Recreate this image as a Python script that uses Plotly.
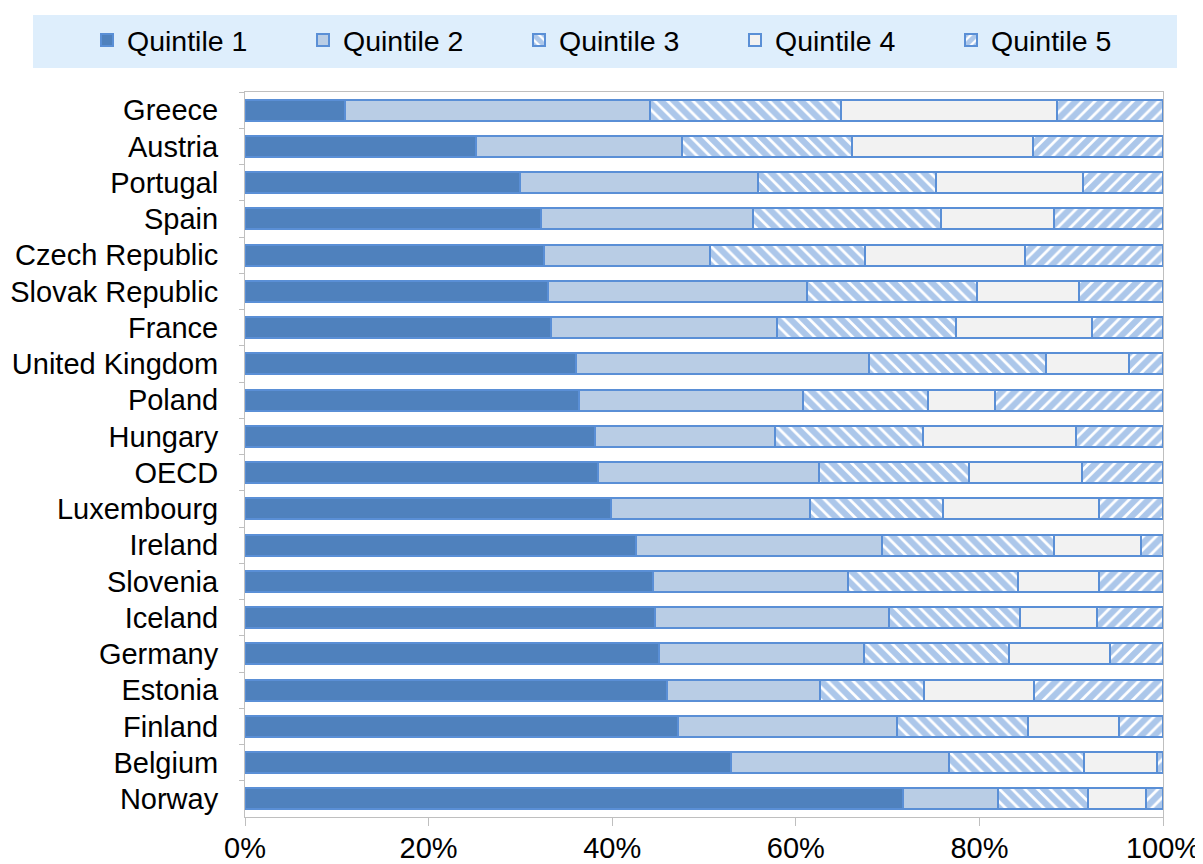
import plotly.graph_objects as go

countries = ["Greece", "Austria", "Portugal", "Spain", "Czech Republic", "Slovak Republic",
             "France", "United Kingdom", "Poland", "Hungary", "OECD", "Luxembourg",
             "Ireland", "Slovenia", "Iceland", "Germany", "Estonia", "Finland",
             "Belgium", "Norway"]

q1 = [10.9, 25.2, 30.0, 32.2, 32.6, 33.0, 33.3, 36.1, 36.4, 38.1, 38.5, 39.9,
      42.6, 44.4, 44.7, 45.1, 46.0, 47.2, 52.9, 71.7]
q2 = [33.2, 22.4, 25.9, 23.1, 18.0, 28.2, 24.7, 31.9, 24.4, 19.6, 24.0, 21.7,
      26.8, 21.3, 25.5, 22.3, 16.6, 23.8, 23.8, 10.3]
q3 = [20.8, 18.5, 19.4, 20.5, 16.9, 18.5, 19.4, 19.3, 13.6, 16.2, 16.4, 14.4,
      18.7, 18.5, 14.2, 15.8, 11.4, 14.3, 14.7, 9.8]
q4 = [23.5, 19.7, 16.0, 12.3, 17.5, 11.1, 14.9, 9.0, 7.3, 16.6, 12.3, 17.0,
      9.5, 8.8, 8.4, 11.0, 11.9, 9.9, 8.0, 6.3]
q5 = [11.6, 14.2, 8.7, 11.9, 15.0, 9.2, 7.7, 3.7, 18.3, 9.5, 8.8, 7.0,
      2.4, 7.0, 7.2, 5.8, 14.1, 4.8, 0.6, 1.9]

series_names = ["Quintile 1", "Quintile 2", "Quintile 3", "Quintile 4", "Quintile 5"]
x_ticks = [0, 20, 40, 60, 80, 100]
x_tick_labels = ["0%", "20%", "40%", "60%", "80%", "100%"]

EDGE = "#5A8FD6"
FONT = "Liberation Sans, Arial, sans-serif"
FS = 29

# figure-pixel geometry (page body adds an 8px offset)
PL, PR, PT, PB = 237, 1155, 84, 809
PW, PH = PR - PL, PB - PT

def px_x(x):
    return (x - PL) / PW

def px_y(y):
    return (PB - y) / PH

styles = [
    dict(color="#4F81BD", pattern=None),
    dict(color="#B9CDE5", pattern=None),
    dict(color="white", pattern=dict(shape="\\", fgcolor=EDGE, bgcolor="white", size=9, solidity=0.7, fillmode="overlay")),
    dict(color="#F2F2F2", pattern=None),
    dict(color="white", pattern=dict(shape="/", fgcolor=EDGE, bgcolor="white", size=9, solidity=0.7, fillmode="overlay")),
]

fig = go.Figure()
for name, vals, st in zip(series_names, [q1, q2, q3, q4, q5], styles):
    marker = dict(color=st["color"], line=dict(color=EDGE, width=2))
    if st["pattern"]:
        marker["pattern"] = st["pattern"]
    fig.add_trace(go.Bar(
        x=vals, y=countries, name=name, orientation="h", marker=marker,
        hovertemplate="%{y}: %{x:.1f}%<extra>" + name + "</extra>",
    ))

fig.update_layout(
    barmode="stack",
    bargap=0.42,
    width=1203, height=864,
    margin=dict(l=PL, r=1203 - PR, t=PT, b=864 - PB, autoexpand=False),
    paper_bgcolor="white", plot_bgcolor="white",
    font=dict(family=FONT, size=FS, color="black"),
    showlegend=True,
    legend=dict(
        orientation="h", xref="paper", yref="paper",
        x=px_x(79), xanchor="left", y=px_y(7), yanchor="top",
        bgcolor="rgba(0,0,0,0)", borderwidth=0,
        entrywidth=171, entrywidthmode="pixels",
        font=dict(family=FONT, size=28.5, color="black"),
        traceorder="normal",
    ),
    shapes=[dict(
        type="rect", xref="paper", yref="paper",
        x0=px_x(25), x1=px_x(1169), y0=px_y(60), y1=px_y(7),
        fillcolor="#DEEEFC", line=dict(width=0), layer="below",
    )],
)

fig.update_xaxes(
    range=[0, 100], tickvals=x_ticks, ticktext=x_tick_labels,
    showgrid=False, zeroline=False, automargin=False,
    showline=True, linecolor="#BFBFBF", linewidth=1, mirror=True,
    ticks="outside", ticklen=8, tickcolor="#BFBFBF", ticklabelstandoff=-3,
    tickfont=dict(family=FONT, size=FS, color="black"),
)
fig.update_yaxes(
    autorange="reversed", categoryorder="array", categoryarray=countries,
    showgrid=False, showline=True, linecolor="#BFBFBF", linewidth=1, mirror=True,
    automargin=False,
    ticks="outside", ticklen=5, tickcolor="#BFBFBF", tickson="boundaries",
    ticklabelstandoff=20,
    tickfont=dict(family=FONT, size=FS, color="black"),
)

fig.write_html("out.html")
